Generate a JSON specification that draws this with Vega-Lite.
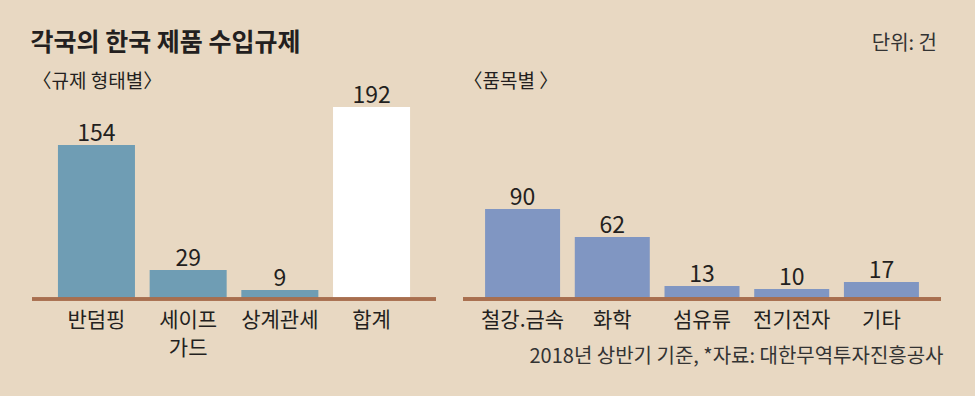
{
  "$schema": "https://vega.github.io/schema/vega-lite/v6.json",
  "background": "#e8d8c2",
  "padding": {"left": 30, "top": 31, "right": 34, "bottom": 34},
  "config": {"view": {"stroke": null}, "font": "Noto Sans CJK KR"},
  "bounds": "flush",
  "spacing": 27,
  "hconcat": [
    {
      "width": 404,
      "height": 192,
      "title": {"text": "각국의 한국 제품 수입규제", "anchor": "start", "fontSize": 25, "fontWeight": "bold", "color": "#231f20", "offset": 16},
      "data": {"values": [
        {"category": "반덤핑", "value": 154},
        {"category": "세이프가드", "value": 29},
        {"category": "상계관세", "value": 9},
        {"category": "합계", "value": 192}
      ]},
      "encoding": {
        "y": {"field": "value", "type": "quantitative", "scale": {"domain": [0, 192], "nice": false},
          "axis": {"orient": "left", "title": "〈규제 형태별〉", "titleAngle": 0, "titleAlign": "left", "titleBaseline": "middle", "titleX": 0, "titleY": -26, "titleFontSize": 19, "titleFontWeight": "normal", "titleColor": "#231f20", "labels": false, "ticks": false, "domain": false, "grid": false}}
      },
      "layer": [
        {
          "mark": {"type": "bar"},
          "encoding": {
            "x": {"field": "category", "type": "nominal", "sort": null, "scale": {"paddingInner": 0.16, "paddingOuter": 0.283},
              "axis": {"title": null, "domain": false, "ticks": false, "labelPadding": 10, "labelFontSize": 21, "labelColor": "#231f20", "labelAngle": 0, "labelExpr": "datum.value == '세이프가드' ? ['세이프', '가드'] : datum.label", "labelLineHeight": 28}},
            "color": {"field": "category", "type": "nominal", "scale": {"domain": ["반덤핑", "세이프가드", "상계관세", "합계"], "range": ["#6f9db4", "#6f9db4", "#6f9db4", "#ffffff"]}, "legend": null}
          }
        },
        {
          "mark": {"type": "text", "dy": -4, "baseline": "alphabetic", "fontSize": 23, "color": "#231f20"},
          "encoding": {
            "x": {"field": "category", "type": "nominal", "sort": null,
              "axis": {"title": null, "domain": false, "ticks": false, "labelPadding": 10, "labelFontSize": 21, "labelColor": "#231f20", "labelAngle": 0, "labelExpr": "datum.value == '세이프가드' ? ['세이프', '가드'] : datum.label", "labelLineHeight": 28}},
            "text": {"field": "value", "type": "quantitative"}
          }
        },
        {
          "mark": {"type": "rule", "color": "#a86f4f", "strokeWidth": 3},
          "encoding": {"y": {"datum": 0}}
        }
      ]
    },
    {
      "width": 478,
      "height": 192,
      "title": {"text": "단위: 건", "anchor": "end", "fontSize": 20, "fontWeight": "normal", "color": "#333333", "offset": 18, "dx": -6},
      "data": {"values": [
        {"category": "철강.금속", "value": 90},
        {"category": "화학", "value": 62},
        {"category": "섬유류", "value": 13},
        {"category": "전기전자", "value": 10},
        {"category": "기타", "value": 17}
      ]},
      "encoding": {
        "y": {"field": "value", "type": "quantitative", "scale": {"domain": [0, 192], "nice": false},
          "axis": {"orient": "left", "title": "〈품목별 〉", "titleAngle": 0, "titleAlign": "left", "titleBaseline": "middle", "titleX": 0, "titleY": -26, "titleFontSize": 19, "titleFontWeight": "normal", "titleColor": "#231f20", "labels": false, "ticks": false, "domain": false, "grid": false}}
      },
      "layer": [
        {
          "mark": {"type": "bar", "color": "#8096c2"},
          "encoding": {
            "x": {"field": "category", "type": "nominal", "sort": null, "scale": {"paddingInner": 0.164, "paddingOuter": 0.246},
              "axis": {"title": "2018년 상반기 기준, *자료: 대한무역투자진흥공사", "titleAnchor": "end", "titleAlign": "right", "titleBaseline": "middle", "titleX": 480, "titleY": 57, "titleFontSize": 20, "titleFontWeight": "normal", "titleColor": "#333333", "domain": false, "ticks": false, "labelPadding": 10, "labelFontSize": 21, "labelColor": "#231f20", "labelAngle": 0}}
          }
        },
        {
          "mark": {"type": "text", "dy": -4, "baseline": "alphabetic", "fontSize": 23, "color": "#231f20"},
          "encoding": {
            "x": {"field": "category", "type": "nominal", "sort": null,
              "axis": {"title": "2018년 상반기 기준, *자료: 대한무역투자진흥공사", "titleAnchor": "end", "titleAlign": "right", "titleBaseline": "middle", "titleX": 480, "titleY": 57, "titleFontSize": 20, "titleFontWeight": "normal", "titleColor": "#333333", "domain": false, "ticks": false, "labelPadding": 10, "labelFontSize": 21, "labelColor": "#231f20", "labelAngle": 0}},
            "text": {"field": "value", "type": "quantitative"}
          }
        },
        {
          "mark": {"type": "rule", "color": "#a86f4f", "strokeWidth": 3},
          "encoding": {"y": {"datum": 0}}
        }
      ]
    }
  ]
}
